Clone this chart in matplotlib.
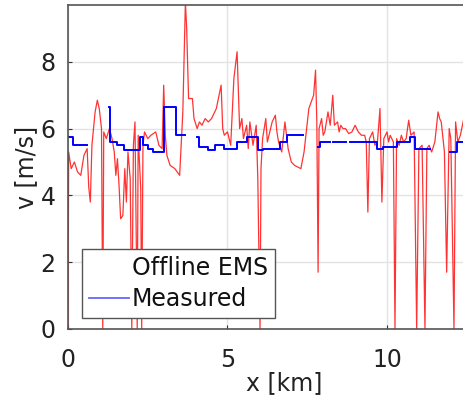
import numpy as np
import matplotlib
matplotlib.use("Agg")
from matplotlib import pyplot as plt
from matplotlib.lines import Line2D

plt.rcParams['font.family'] = ['DejaVu Sans']
plt.rcParams['font.size'] = 17

# Offline EMS speed profile (x in km, v in m/s)
ems_x = [0.00, 0.02, 0.10, 0.20, 0.30, 0.40, 0.50, 0.60, 0.65, 0.70, 0.75, 0.85, 0.92, 0.98,
         1.05, 1.09, 1.12, 1.20, 1.30, 1.38, 1.45, 1.50, 1.55, 1.60, 1.65, 1.72, 1.78, 1.83,
         1.88, 1.95, 2.00, 2.05, 2.10, 2.17, 2.20, 2.28, 2.31, 2.35, 2.40, 2.50, 2.60, 2.75,
         2.85, 2.95, 3.00, 3.05, 3.10, 3.20, 3.35, 3.50, 3.60, 3.68, 3.72, 3.78, 3.90, 3.95,
         4.05, 4.12, 4.20, 4.30, 4.40, 4.50, 4.65, 4.80, 4.85, 4.90, 5.00, 5.10, 5.20, 5.30,
         5.38, 5.45, 5.50, 5.60, 5.65, 5.70, 5.80, 5.90, 5.95, 6.02, 6.05, 6.10, 6.20, 6.25,
         6.30, 6.40, 6.50, 6.55, 6.60, 6.70, 6.80, 6.90, 7.00, 7.10, 7.30, 7.40, 7.55, 7.70,
         7.76, 7.80, 7.84, 7.87, 7.95, 8.00, 8.05, 8.15, 8.22, 8.30, 8.35, 8.45, 8.50, 8.55,
         8.62, 8.70, 8.80, 8.90, 9.00, 9.10, 9.20, 9.30, 9.35, 9.40, 9.45, 9.55, 9.62, 9.70,
         9.78, 9.84, 9.90, 10.00, 10.05, 10.10, 10.20, 10.25, 10.30, 10.38, 10.45, 10.52,
         10.60, 10.68, 10.75, 10.85, 10.93, 11.00, 11.10, 11.19, 11.25, 11.32, 11.40, 11.50,
         11.60, 11.65, 11.70, 11.80, 11.87, 11.95, 12.00, 12.10, 12.15, 12.22, 12.30, 12.45,
         12.60, 12.80, 13.00, 13.30, 13.60]
ems_v = [0.0, 5.3, 4.8, 5.0, 4.7, 4.6, 5.2, 5.4, 4.25, 3.8, 5.5, 6.5, 6.85, 6.6,
         6.0, 0.0, 5.9, 5.7, 6.0, 5.7, 5.3, 4.6, 5.1, 4.3, 3.3, 3.4, 4.8, 3.8,
         5.3, 4.5, 0.0, 5.5, 6.2, 0.0, 5.8, 4.2, 0.0, 5.5, 5.9, 5.7, 5.8, 5.9,
         5.5, 5.4, 7.3, 5.8, 5.2, 4.9, 4.8, 4.6, 6.5, 9.8, 9.0, 6.9, 6.9, 6.3,
         6.0, 6.2, 6.1, 6.3, 6.2, 6.3, 6.6, 7.3, 6.0, 5.8, 5.9, 5.5, 7.5, 8.3,
         6.0, 6.3, 5.7, 6.1, 5.4, 6.2, 5.5, 6.1, 4.5, 0.0, 4.8, 5.7, 6.3, 5.6,
         5.8, 6.2, 6.4, 5.9, 5.6, 5.3, 6.2, 5.4, 5.0, 4.9, 4.8, 5.3, 6.6, 7.0,
         7.75, 6.2, 1.7, 6.0, 6.3, 5.8, 5.9, 6.5, 6.1, 7.0, 6.1, 6.2, 5.9, 6.1,
         6.0, 6.0, 5.85, 5.9, 6.1, 5.9, 5.8, 5.8, 5.6, 3.5, 5.7, 5.9, 5.5, 5.6,
         6.6, 3.8, 5.7, 5.9, 5.6, 5.8, 5.6, 0.0, 5.7, 5.5, 5.8, 5.6,
         5.7, 6.25, 5.8, 5.9, 0.0, 5.4, 5.5, 0.0, 5.4, 5.5, 5.3, 5.6,
         6.5, 6.3, 6.2, 5.3, 1.7, 6.0, 5.7, 0.0, 6.2, 5.6, 5.8, 6.5,
         5.9, 6.2, 5.8, 6.0, 5.9]

# Measured speed (step profile, nan = no data)
meas_x = [0.00, 0.15, 0.60, 1.30, 1.33, 1.55, 1.75, 2.25, 2.35, 2.50, 2.65, 3.00, 3.40, 3.67,
          4.04, 4.10, 4.40, 4.60, 4.90, 5.30, 5.60, 5.95, 6.10, 6.65, 6.86, 7.37,
          7.84, 7.90, 8.20, 8.30, 8.70, 8.85, 9.30, 9.68, 9.88, 10.30, 10.72, 10.88, 11.35,
          11.97, 12.18, 13.60]
meas_v = [5.75, 5.5, np.nan, 6.65, 5.6, 5.5, 5.35, 5.75, 5.5, 5.4, 5.3, 6.65, 5.8, np.nan,
          5.75, 5.45, 5.35, 5.5, 5.4, 5.6, 5.75, 5.35, 5.4, 5.6, 5.8, np.nan,
          5.45, 5.6, np.nan, 5.6, np.nan, 5.6, 5.6, 5.4, 5.45, 5.6, 5.75, 5.4, np.nan,
          5.3, 5.6, 5.6]

x_ticks = [0, 5, 10]
y_ticks = [0, 2, 4, 6, 8]

fig = plt.figure(figsize=(4.64, 3.96), dpi=100)
# axes runs past the right edge, like the cropped original
ax = fig.add_axes([68 / 464, 67 / 396, 432 / 464, 324 / 396])

ax.plot(ems_x, ems_v, color='red', lw=0.9, alpha=0.8)
ax.plot(meas_x, meas_v, color='blue', lw=1.4, drawstyle='steps-post')

ax.set_xlim(0, 432 / 31.9)
ax.set_ylim(0, 9.7)
ax.set_xticks(x_ticks)
ax.set_yticks(y_ticks)
ax.grid(True, color='#e3e3e3', lw=1)
ax.set_axisbelow(True)
ax.tick_params(direction='in', length=3, colors='#333333', labelcolor='#222222')
ax.tick_params(axis='x', pad=14)
ax.tick_params(axis='y', pad=9)
for s in ['top', 'left', 'bottom']:
    ax.spines[s].set_color('#555555')
    ax.spines[s].set_linewidth(1.2)
ax.spines['right'].set_visible(False)

ax.set_xlabel('x [km]', color='#222222', labelpad=-1)
ax.set_ylabel('v [m/s]', color='#222222', labelpad=2)

handles = [Line2D([], [], color='none'), Line2D([], [], color='#6666ff', lw=1.3)]
leg = ax.legend(handles, ['Offline EMS', 'Measured'], loc='lower left',
                bbox_to_anchor=(0.032, 0.034), borderaxespad=0, fancybox=False,
                framealpha=1, edgecolor='#555555', handlelength=1.7, handletextpad=0.13,
                borderpad=0.3, labelspacing=0.28, labelcolor='#111111')
leg.get_frame().set_linewidth(1.0)

fig.savefig('out.png', dpi=100)
